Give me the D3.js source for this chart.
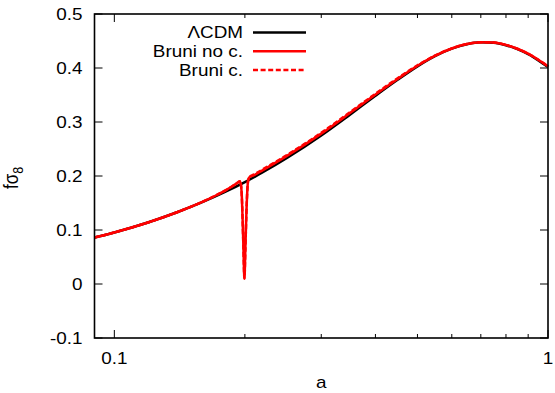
<!DOCTYPE html>
<html>
<head>
<meta charset="utf-8">
<script src="https://cdn.jsdelivr.net/npm/d3@7"></script>
<style>
  body { margin: 0; background: #fff; }
  svg text { font-family: "Liberation Sans", Arial, sans-serif; fill: #000; }
</style>
</head>
<body>
<div id="chart"></div>
<script>
// --- data ---
const lcdmA = [0.09, 0.1, 0.12, 0.14, 0.16, 0.18, 0.2, 0.22, 0.25, 0.3, 0.35, 0.4, 0.45,
               0.5, 0.55, 0.6, 0.65, 0.7, 0.75, 0.8, 0.85, 0.9, 0.95, 1.0];
const lcdmF = [0.0860, 0.0955, 0.1144, 0.1333, 0.1519, 0.1704, 0.1887, 0.2069, 0.2334, 0.2752,
               0.3141, 0.3486, 0.3782, 0.4031, 0.4224, 0.4358, 0.4441, 0.4477, 0.4469, 0.4422,
               0.4349, 0.4255, 0.4141, 0.4020];

const bruniA = [0.09, 0.1, 0.12, 0.14, 0.16, 0.17, 0.18, 0.185, 0.19, 0.193, 0.195, 0.1965,
                0.1975, 0.1985, 0.1995, 0.2005, 0.2015, 0.2025, 0.2035, 0.2047, 0.21, 0.22,
                0.25, 0.3, 0.35, 0.4, 0.45, 0.5, 0.55, 0.6, 0.65, 0.7, 0.75, 0.8, 0.85, 0.9,
                0.95, 1.0];
const bruniNoC = [0.0860, 0.0955, 0.1144, 0.1334, 0.1525, 0.1625, 0.1730, 0.1787, 0.1845, 0.1885,
                  0.1905, 0.172, 0.125, 0.065, 0.010, 0.065, 0.125, 0.170, 0.192, 0.1975,
                  0.2015, 0.2108, 0.2372, 0.2785, 0.3170, 0.3508, 0.3797, 0.4042, 0.4230, 0.4362,
                  0.4443, 0.4478, 0.4472, 0.4427, 0.4356, 0.4265, 0.4153, 0.4032];
const bruniC = [0.0860, 0.0955, 0.1144, 0.1334, 0.1525, 0.1625, 0.1730, 0.1787, 0.1845, 0.1885,
                0.1905, 0.172, 0.125, 0.065, 0.010, 0.065, 0.125, 0.170, 0.192, 0.1980,
                0.2030, 0.2123, 0.2388, 0.2800, 0.3185, 0.3522, 0.3810, 0.4050, 0.4234, 0.4364,
                0.4444, 0.4478, 0.4472, 0.4427, 0.4356, 0.4265, 0.4153, 0.4032];

const yTicks = [-0.1, 0, 0.1, 0.2, 0.3, 0.4, 0.5];
const yTickLabels = ["-0.1", "0", "0.1", "0.2", "0.3", "0.4", "0.5"];
const xMajor = [0.1, 1];
const xMajorLabels = ["0.1", "1"];
const xMinor = [0.2, 0.3, 0.4, 0.5, 0.6, 0.7, 0.8, 0.9];

const legendNames = ["\u039BCDM", "Bruni no c.", "Bruni c."];

const width = 555, height = 393;
const margin = {left: 94.5, right: 7, top: 14, bottom: 55};
const fontSize = 16, stretch = 1.18;   // the original lettering is a bit wide

const svg = d3.select("#chart").append("svg")
  .attr("width", width).attr("height", height);

function addText(px, py, str, anchor) {
  return svg.append("text")
    .attr("transform", `translate(${px},${py}) scale(${stretch},1)`)
    .attr("text-anchor", anchor).attr("font-size", fontSize).text(str);
}

const x = d3.scaleLog().domain([0.09, 1]).range([margin.left, width - margin.right]);
const y = d3.scaleLinear().domain([-0.1, 0.5]).range([height - margin.bottom, margin.top]);

const x0 = x.range()[0], x1 = x.range()[1];
const y0 = y.range()[0], y1 = y.range()[1];

// ticks, inward on all sides
const tickG = svg.append("g").attr("stroke", "#000").attr("stroke-width", 1);
yTicks.forEach(v => {
  tickG.append("line").attr("x1", x0).attr("x2", x0 + 8).attr("y1", y(v)).attr("y2", y(v));
  tickG.append("line").attr("x1", x1).attr("x2", x1 - 8).attr("y1", y(v)).attr("y2", y(v));
});
xMajor.forEach(v => {
  tickG.append("line").attr("x1", x(v)).attr("x2", x(v)).attr("y1", y0).attr("y2", y0 - 8);
  tickG.append("line").attr("x1", x(v)).attr("x2", x(v)).attr("y1", y1).attr("y2", y1 + 8);
});
xMinor.forEach(v => {
  tickG.append("line").attr("x1", x(v)).attr("x2", x(v)).attr("y1", y0).attr("y2", y0 - 4);
  tickG.append("line").attr("x1", x(v)).attr("x2", x(v)).attr("y1", y1).attr("y2", y1 + 4);
});

// tick labels
yTicks.forEach((v, i) => addText(x0 - 12, y(v) + 5.8, yTickLabels[i], "end"));
xMajor.forEach((v, i) => addText(x(v), y0 + 26, xMajorLabels[i], "middle"));

// axis titles
addText((x0 + x1) / 2, 388, "a", "middle");
const yl = svg.append("text")
  .attr("transform", `translate(18,178) rotate(-90) scale(1,${stretch})`)
  .attr("text-anchor", "middle").attr("font-size", 17);
yl.append("tspan").text("f\u03C3");
yl.append("tspan").attr("font-size", 12.5).attr("dy", 4).text("8");

// curves
const line = d3.line().x(d => x(d[0])).y(d => y(d[1])).curve(d3.curveMonotoneX);
const plot = svg.append("g");
plot.append("path").datum(d3.zip(lcdmA, lcdmF)).attr("d", line)
  .attr("fill", "none").attr("stroke", "#000").attr("stroke-width", 2.5);
plot.append("path").datum(d3.zip(bruniA, bruniNoC)).attr("d", line)
  .attr("fill", "none").attr("stroke", "#ff0000").attr("stroke-width", 2.5);
plot.append("path").datum(d3.zip(bruniA, bruniC)).attr("d", line)
  .attr("fill", "none").attr("stroke", "#ff0000").attr("stroke-width", 2.5)
  .attr("stroke-dasharray", "5,2.6");

// legend
const legStyles = [
  {color: "#000", dash: null},
  {color: "#ff0000", dash: null},
  {color: "#ff0000", dash: "5,2.6"}
];
legendNames.forEach((name, i) => {
  const ly = 32.5 + i * 18.7;
  addText(243, ly + 5.8, name, "end");
  svg.append("line").attr("x1", 253).attr("x2", 306).attr("y1", ly).attr("y2", ly)
    .attr("stroke", legStyles[i].color).attr("stroke-width", 2.5)
    .attr("stroke-dasharray", legStyles[i].dash);
});

// frame
svg.append("rect").attr("x", x0).attr("y", y1).attr("width", x1 - x0).attr("height", y0 - y1)
  .attr("fill", "none").attr("stroke", "#000").attr("stroke-width", 1.6);
</script>
</body>
</html>
